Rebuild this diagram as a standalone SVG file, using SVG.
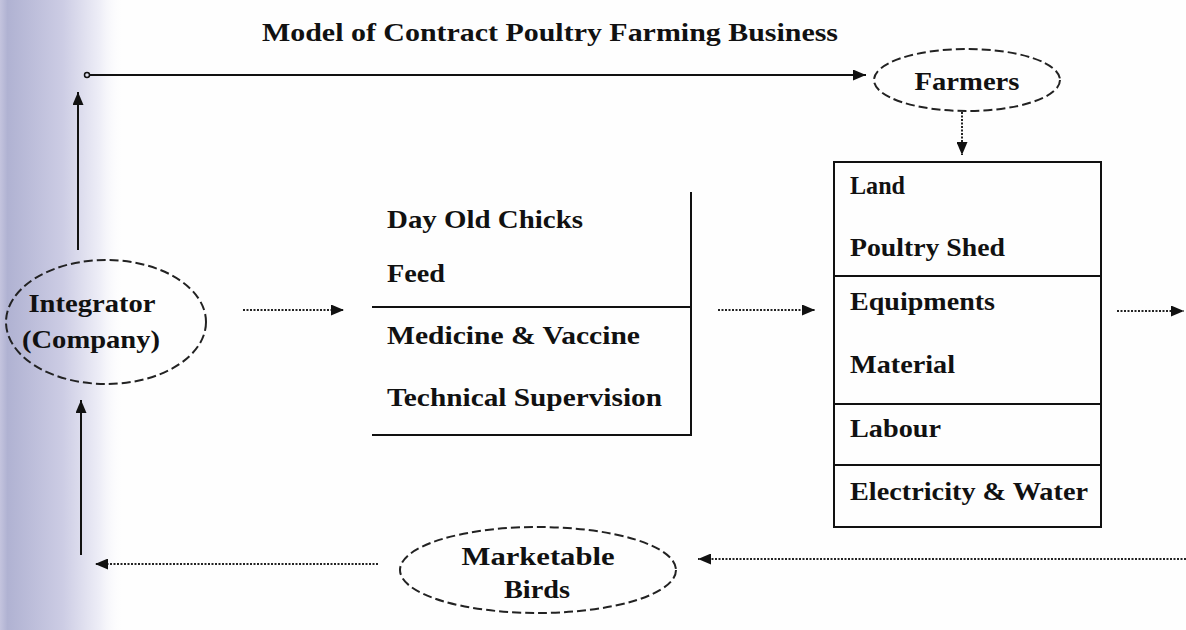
<svg xmlns="http://www.w3.org/2000/svg" width="1186" height="630" viewBox="0 0 1186 630">
<defs>
<linearGradient id="scan" x1="0" y1="0" x2="1" y2="0">
<stop offset="0" stop-color="#c4c4de"/>
<stop offset="0.06" stop-color="#b0b2d2"/>
<stop offset="0.5" stop-color="#cccce4"/>
<stop offset="0.8" stop-color="#eeeef7"/>
<stop offset="1" stop-color="#ffffff" stop-opacity="0"/>
</linearGradient>
<marker id="arr" viewBox="0 0 13 11" refX="13" refY="5.5" markerWidth="13" markerHeight="11" markerUnits="userSpaceOnUse" orient="auto">
<path d="M0,0 L13,5.5 L0,11 z" fill="#111"/>
</marker>
<style>
.t{font-family:"Liberation Serif","Times New Roman",serif;font-weight:bold;font-size:25px;fill:#111}
.tm{text-anchor:middle}
.solid{stroke:#111;stroke-width:2;fill:none}
.dot{stroke:#222;stroke-width:2;stroke-dasharray:2 1.5;fill:none}
.oval{stroke:#222;stroke-width:2;stroke-dasharray:9 4;fill:none}
.box{stroke:#111;stroke-width:2;fill:none}
</style>
</defs>
<rect width="1186" height="630" fill="#fefefe"/>
<rect x="0" y="0" width="125" height="630" fill="url(#scan)"/>

<text class="t tm" x="550" y="41" textLength="576" lengthAdjust="spacingAndGlyphs">Model of Contract Poultry Farming Business</text>

<g id="integrator">
<ellipse class="oval" cx="106" cy="322" rx="100" ry="62"/>
<text class="t tm" x="92" y="312" textLength="127" lengthAdjust="spacingAndGlyphs">Integrator</text>
<text class="t tm" x="91" y="348" textLength="138" lengthAdjust="spacingAndGlyphs">(Company)</text>
</g>

<g id="farmers">
<ellipse class="oval" cx="967" cy="80" rx="93" ry="31"/>
<text class="t tm" x="967" y="90" textLength="105" lengthAdjust="spacingAndGlyphs">Farmers</text>
</g>

<g id="inputs">
<path class="box" d="M691,192 V435 H372 M372,307 H691"/>
<text class="t" x="387" y="228" textLength="196" lengthAdjust="spacingAndGlyphs">Day Old Chicks</text>
<text class="t" x="387" y="282" textLength="58" lengthAdjust="spacingAndGlyphs">Feed</text>
<text class="t" x="387" y="344" textLength="253" lengthAdjust="spacingAndGlyphs">Medicine &amp; Vaccine</text>
<text class="t" x="387" y="406" textLength="275" lengthAdjust="spacingAndGlyphs">Technical Supervision</text>
</g>

<g id="farm-resources">
<rect class="box" x="834" y="162" width="267" height="365"/>
<path class="box" d="M834,276 H1101 M834,404 H1101 M834,465 H1101"/>
<text class="t" x="850" y="194" textLength="55" lengthAdjust="spacingAndGlyphs">Land</text>
<text class="t" x="850" y="256" textLength="155" lengthAdjust="spacingAndGlyphs">Poultry Shed</text>
<text class="t" x="850" y="310" textLength="145" lengthAdjust="spacingAndGlyphs">Equipments</text>
<text class="t" x="850" y="373" textLength="105" lengthAdjust="spacingAndGlyphs">Material</text>
<text class="t" x="850" y="437" textLength="91" lengthAdjust="spacingAndGlyphs">Labour</text>
<text class="t" x="850" y="500" textLength="238" lengthAdjust="spacingAndGlyphs">Electricity &amp; Water</text>
</g>

<g id="marketable-birds">
<ellipse class="oval" cx="538" cy="570" rx="138" ry="43"/>
<text class="t tm" x="538" y="565" textLength="153" lengthAdjust="spacingAndGlyphs">Marketable</text>
<text class="t tm" x="537" y="598" textLength="66" lengthAdjust="spacingAndGlyphs">Birds</text>
</g>

<g id="connectors">
<circle cx="87" cy="75" r="2.5" fill="none" stroke="#111" stroke-width="1.5"/>
<line class="solid" x1="90" y1="75" x2="866" y2="75" marker-end="url(#arr)"/>
<line class="solid" x1="78" y1="250" x2="78" y2="92" marker-end="url(#arr)"/>
<line class="dot" x1="962" y1="112" x2="962" y2="155" marker-end="url(#arr)"/>
<line class="dot" x1="243" y1="310" x2="344" y2="310" marker-end="url(#arr)"/>
<line class="dot" x1="718" y1="310" x2="815" y2="310" marker-end="url(#arr)"/>
<line class="dot" x1="1117" y1="311" x2="1184" y2="311" marker-end="url(#arr)"/>
<line class="dot" x1="1186" y1="559" x2="698" y2="559" marker-end="url(#arr)"/>
<line class="dot" x1="378" y1="564" x2="95" y2="564" marker-end="url(#arr)"/>
<line class="solid" x1="81" y1="555" x2="81" y2="400" marker-end="url(#arr)"/>
</g>
</svg>
